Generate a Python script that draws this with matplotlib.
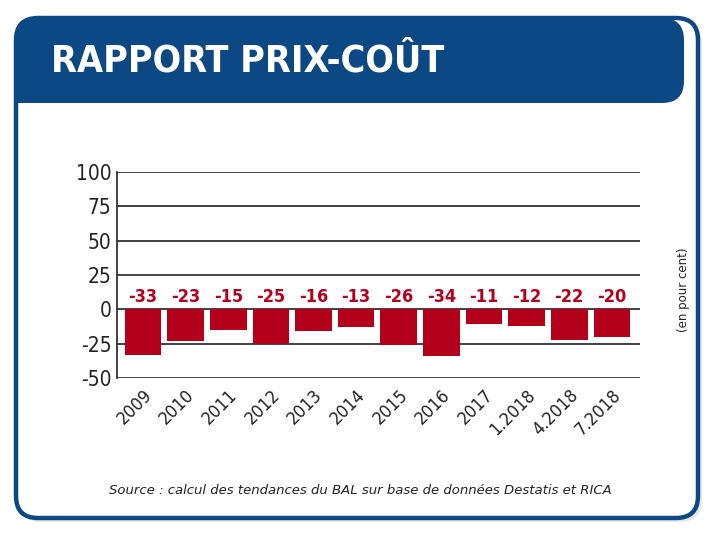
import matplotlib
matplotlib.use("Agg")
import matplotlib.pyplot as plt
from matplotlib.patches import FancyBboxPatch, Rectangle

plt.rcParams["axes.unicode_minus"] = False

# data
periods = ["2009", "2010", "2011", "2012", "2013", "2014", "2015", "2016",
           "2017", "1.2018", "4.2018", "7.2018"]
values = [-33, -23, -15, -25, -16, -13, -26, -34, -11, -12, -22, -20]
y_ticks = [100, 75, 50, 25, 0, -25, -50]

TITLE = "RAPPORT PRIX-COÛT"
UNIT = "(en pour cent)"
SOURCE = "Source : calcul des tendances du BAL sur base de données Destatis et RICA"

BLUE = "#0b4884"
RED = "#b5001c"
COND = dict(family="DejaVu Sans", stretch="condensed")

W, H = 720, 538
fig = plt.figure(figsize=(W / 100, H / 100), dpi=100)

# frame drawn in pixel coordinates
bg = fig.add_axes([0, 0, 1, 1])
bg.set_xlim(0, W)
bg.set_ylim(H, 0)
bg.axis("off")

# soft shadow
bg.add_patch(FancyBboxPatch((20, 22), 682, 500, boxstyle="round,pad=0,rounding_size=22",
                            fc="#d8d8d8", ec="none", alpha=0.6, zorder=0))
bg.add_patch(FancyBboxPatch((16, 18), 682, 500, boxstyle="round,pad=0,rounding_size=22",
                            fc="white", ec=BLUE, lw=3.2, zorder=1))
# header band
bg.add_patch(FancyBboxPatch((16, 18), 668, 85, boxstyle="round,pad=0,rounding_size=22",
                            fc=BLUE, ec="none", zorder=2))
bg.add_patch(Rectangle((16, 60), 30, 43, fc=BLUE, ec="none", zorder=2))
bg.text(51, 62, TITLE, color="white", fontsize=27, fontweight="bold",
        va="center", ha="left", zorder=3, **COND)
bg.text(684, 290, UNIT, rotation=90, fontsize=8.5, color="#222222",
        va="center", ha="center")
bg.text(360, 491, SOURCE, fontsize=9.5, style="italic", color="#222222",
        va="center", ha="center")

# chart
ax = fig.add_axes([117 / W, 1 - 378 / H, (640 - 117) / W, (378 - 172) / H])
x = range(len(periods))
ax.bar(x, values, width=0.86, color=RED, zorder=3)
for xi, v in zip(x, values):
    ax.text(xi, 9, f"{v}", color=RED, fontsize=13, fontweight="bold",
            ha="center", va="center", **COND)

ax.set_xlim(-0.61, 11.66)
ax.set_ylim(-50, 100)
ax.set_yticks(y_ticks)
ax.set_xticks(list(x))
ax.set_xticklabels(periods, rotation=45, ha="right", va="top",
                   rotation_mode="anchor", fontsize=13, color="#222222", **COND)
for lab in ax.get_yticklabels():
    lab.set_fontsize(15)
    lab.set_color("#222222")
    lab.set_fontstretch("condensed")
ax.tick_params(axis="both", length=0, pad=4)
ax.tick_params(axis="x", pad=6)
ax.grid(axis="y", color="#333333", lw=1.3, zorder=1)
for s in ("top", "right", "bottom"):
    ax.spines[s].set_visible(False)
ax.spines["left"].set_color("#333333")
ax.spines["left"].set_linewidth(1.3)
ax.set_facecolor("none")

fig.savefig("out.png", dpi=100)
